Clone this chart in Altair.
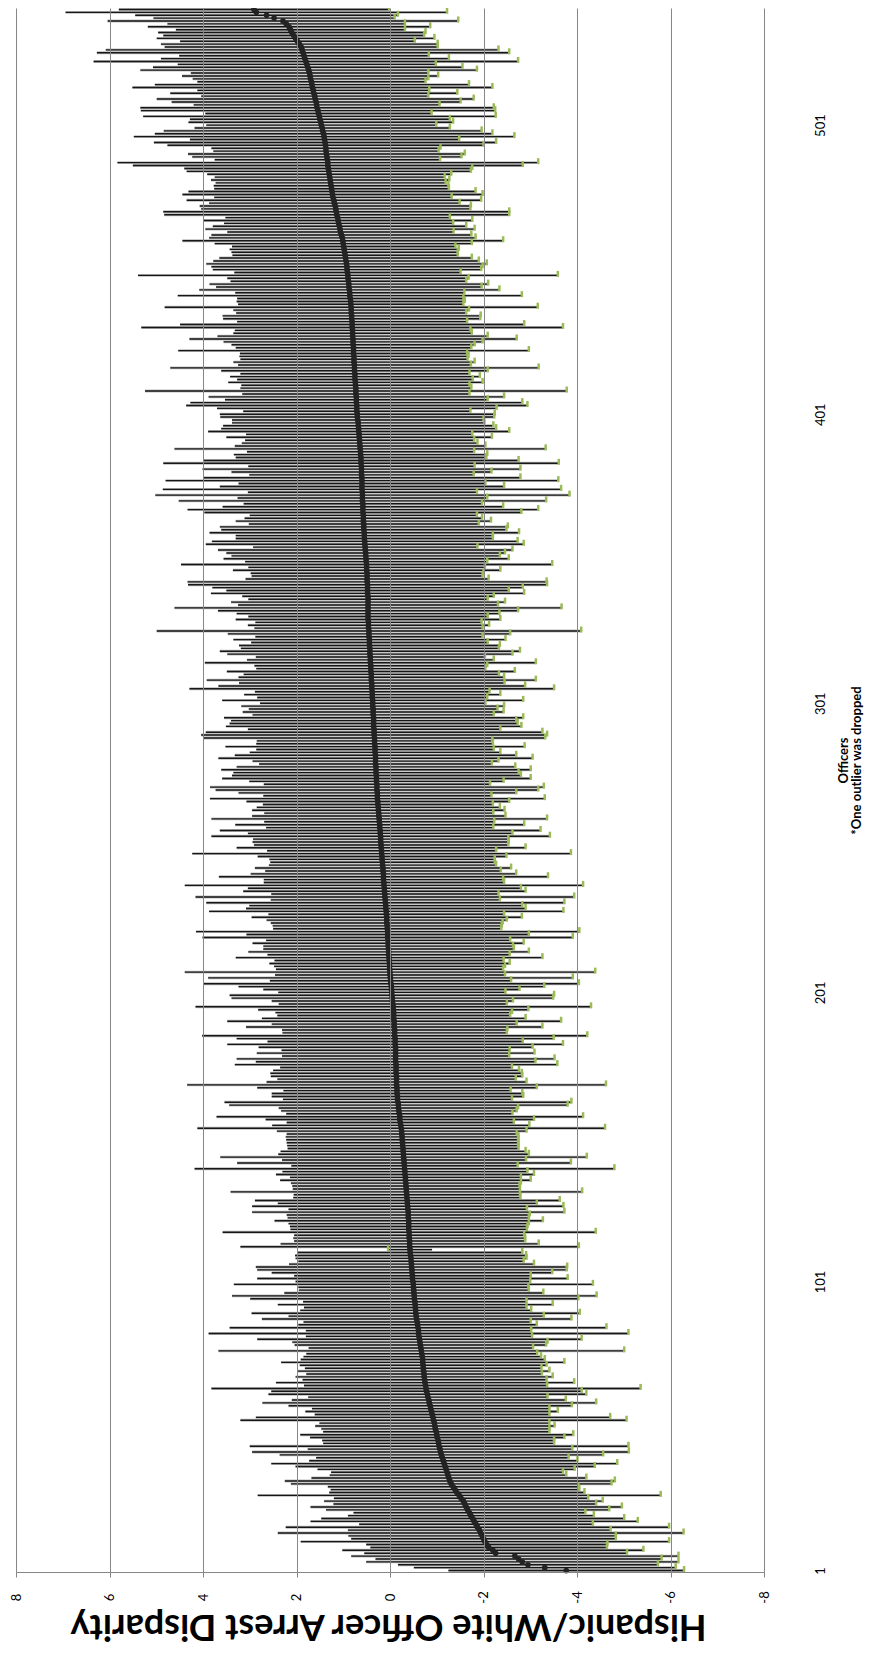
import altair as alt
import pandas as pd

# Point estimate of the Hispanic/White arrest disparity for each officer (officers sorted by estimate)
estimate = [
    -3.77, -3.31, -2.95, -2.83, -2.75, -2.67, -2.26, -2.20, -2.11, -2.07,
    -2.03, -2.00, -1.97, -1.94, -1.91, -1.87, -1.84, -1.80, -1.77, -1.73,
    -1.70, -1.66, -1.63, -1.60, -1.57, -1.52, -1.48, -1.43, -1.39, -1.35,
    -1.31, -1.28, -1.26, -1.24, -1.22, -1.20, -1.18, -1.16, -1.14, -1.12,
    -1.10, -1.08, -1.07, -1.05, -1.04, -1.03, -1.01, -1.00, -0.99, -0.97,
    -0.96, -0.95, -0.93, -0.92, -0.90, -0.89, -0.87, -0.86, -0.84, -0.83,
    -0.81, -0.80, -0.78, -0.77, -0.76, -0.75, -0.74, -0.73, -0.73, -0.72,
    -0.71, -0.71, -0.70, -0.70, -0.69, -0.68, -0.67, -0.66, -0.65, -0.64,
    -0.63, -0.62, -0.61, -0.61, -0.60, -0.59, -0.58, -0.57, -0.56, -0.55,
    -0.55, -0.54, -0.54, -0.53, -0.52, -0.52, -0.51, -0.51, -0.50, -0.50,
    -0.49, -0.48, -0.48, -0.47, -0.47, -0.46, -0.46, -0.45, -0.45, -0.44,
    -0.43, -0.43, -0.42, -0.42, -0.42, -0.41, -0.41, -0.41, -0.40, -0.40,
    -0.40, -0.40, -0.39, -0.39, -0.39, -0.38, -0.38, -0.37, -0.37, -0.36,
    -0.36, -0.35, -0.35, -0.34, -0.34, -0.33, -0.33, -0.32, -0.32, -0.31,
    -0.31, -0.30, -0.30, -0.29, -0.29, -0.28, -0.28, -0.27, -0.27, -0.26,
    -0.26, -0.25, -0.25, -0.24, -0.23, -0.22, -0.21, -0.21, -0.20, -0.19,
    -0.18, -0.18, -0.17, -0.16, -0.16, -0.15, -0.15, -0.15, -0.14, -0.14,
    -0.14, -0.14, -0.13, -0.13, -0.13, -0.13, -0.12, -0.12, -0.12, -0.12,
    -0.12, -0.12, -0.11, -0.11, -0.11, -0.10, -0.10, -0.10, -0.09, -0.09,
    -0.09, -0.08, -0.08, -0.08, -0.07, -0.07, -0.06, -0.05, -0.05, -0.04,
    -0.04, -0.03, -0.03, -0.02, -0.01, -0.01, 0.00, 0.00, 0.01, 0.01,
    0.01, 0.02, 0.02, 0.03, 0.03, 0.03, 0.04, 0.04, 0.04, 0.05,
    0.05, 0.05, 0.06, 0.06, 0.07, 0.07, 0.07, 0.08, 0.08, 0.09,
    0.09, 0.10, 0.10, 0.11, 0.11, 0.12, 0.12, 0.13, 0.13, 0.14,
    0.14, 0.14, 0.15, 0.15, 0.16, 0.16, 0.17, 0.17, 0.18, 0.18,
    0.19, 0.19, 0.20, 0.20, 0.20, 0.21, 0.21, 0.22, 0.22, 0.23,
    0.23, 0.24, 0.24, 0.25, 0.25, 0.26, 0.26, 0.27, 0.27, 0.27,
    0.28, 0.28, 0.28, 0.29, 0.29, 0.29, 0.30, 0.30, 0.30, 0.31,
    0.31, 0.31, 0.31, 0.32, 0.32, 0.32, 0.33, 0.33, 0.33, 0.34,
    0.34, 0.34, 0.35, 0.35, 0.35, 0.35, 0.36, 0.36, 0.36, 0.37,
    0.37, 0.37, 0.38, 0.38, 0.38, 0.39, 0.39, 0.39, 0.40, 0.40,
    0.40, 0.41, 0.41, 0.41, 0.42, 0.42, 0.42, 0.43, 0.43, 0.43,
    0.44, 0.44, 0.44, 0.45, 0.45, 0.45, 0.46, 0.46, 0.46, 0.47,
    0.47, 0.47, 0.47, 0.47, 0.47, 0.47, 0.47, 0.47, 0.48, 0.48,
    0.48, 0.48, 0.49, 0.49, 0.49, 0.49, 0.50, 0.50, 0.50, 0.51,
    0.51, 0.52, 0.52, 0.53, 0.53, 0.54, 0.54, 0.55, 0.55, 0.55,
    0.56, 0.56, 0.56, 0.57, 0.57, 0.57, 0.58, 0.58, 0.58, 0.58,
    0.59, 0.59, 0.59, 0.59, 0.60, 0.60, 0.60, 0.60, 0.60, 0.61,
    0.61, 0.61, 0.61, 0.62, 0.62, 0.62, 0.63, 0.63, 0.64, 0.64,
    0.65, 0.65, 0.66, 0.66, 0.67, 0.67, 0.68, 0.68, 0.69, 0.70,
    0.70, 0.71, 0.71, 0.71, 0.72, 0.72, 0.72, 0.73, 0.73, 0.73,
    0.74, 0.74, 0.75, 0.75, 0.75, 0.76, 0.76, 0.76, 0.77, 0.77,
    0.77, 0.78, 0.78, 0.78, 0.79, 0.79, 0.79, 0.80, 0.80, 0.80,
    0.81, 0.81, 0.81, 0.82, 0.82, 0.83, 0.83, 0.83, 0.84, 0.84,
    0.85, 0.86, 0.86, 0.87, 0.88, 0.88, 0.89, 0.90, 0.90, 0.91,
    0.92, 0.92, 0.93, 0.94, 0.95, 0.96, 0.97, 0.98, 0.99, 1.00,
    1.01, 1.02, 1.04, 1.06, 1.07, 1.08, 1.10, 1.11, 1.12, 1.14,
    1.15, 1.16, 1.17, 1.19, 1.20, 1.22, 1.23, 1.24, 1.25, 1.26,
    1.27, 1.28, 1.29, 1.30, 1.31, 1.32, 1.33, 1.33, 1.34, 1.35,
    1.36, 1.37, 1.37, 1.38, 1.39, 1.40, 1.41, 1.42, 1.44, 1.45,
    1.47, 1.48, 1.50, 1.51, 1.53, 1.54, 1.56, 1.57, 1.58, 1.60,
    1.61, 1.63, 1.64, 1.66, 1.67, 1.68, 1.70, 1.71, 1.72, 1.74,
    1.76, 1.78, 1.80, 1.82, 1.84, 1.86, 1.88, 1.90, 1.94, 1.98,
    2.02, 2.06, 2.10, 2.13, 2.16, 2.22, 2.29, 2.48, 2.64, 2.86, 2.91,
]

# Half-width of each officer's confidence interval
margin = [
    2.52, 2.80, 2.78, 3.34, 3.06, 3.50, 2.81, 3.22, 2.53, 2.58,
    3.94, 2.83, 2.86, 4.34, 2.81, 4.10, 2.50, 3.50, 3.24, 2.63,
    2.48, 3.03, 3.33, 2.81, 2.98, 2.72, 4.31, 2.73, 2.66, 2.68,
    3.43, 3.53, 2.94, 2.53, 2.48, 2.75, 3.20, 3.70, 2.87, 2.70,
    3.46, 4.03, 2.83, 4.05, 2.47, 2.48, 2.72, 2.92, 2.42, 2.44,
    2.56, 2.46, 4.13, 3.79, 2.51, 2.70, 2.54, 3.03, 3.57, 2.93,
    2.56, 3.40, 3.32, 4.59, 2.60, 3.19, 2.61, 2.75, 2.52, 2.69,
    2.53, 2.64, 3.03, 2.61, 2.54, 2.47, 4.34, 2.40, 2.69, 2.73,
    3.47, 2.42, 4.49, 2.41, 4.03, 2.55, 2.43, 3.31, 2.73, 3.51,
    2.47, 2.38, 2.94, 2.39, 3.51, 3.90, 2.77, 2.46, 2.46, 3.84,
    2.51, 3.32, 2.53, 3.00, 3.31, 3.33, 2.62, 2.41, 2.47, 2.47,
    2.40, -0.47, 3.62, 2.76, 2.47, 2.48, 2.46, 3.99, 2.53, 2.54,
    2.57, 2.87, 2.58, 2.60, 3.34, 2.55, 3.33, 2.77, 3.26, 2.43,
    2.42, 3.76, 2.43, 2.43, 2.46, 2.68, 2.47, 2.76, 2.62, 4.49,
    2.42, 3.57, 2.61, 3.92, 2.68, 2.62, 2.47, 2.47, 2.48, 2.48,
    2.49, 2.46, 2.67, 4.36, 2.75, 2.43, 2.87, 3.92, 2.42, 2.52,
    2.56, 3.62, 3.71, 2.45, 2.69, 2.68, 2.43, 2.99, 4.48, 2.78,
    2.55, 2.69, 2.69, 2.63, 2.48, 3.45, 2.99, 3.40, 2.43, 2.97,
    2.44, 2.93, 3.59, 2.73, 3.39, 4.12, 2.40, 2.41, 3.17, 2.62,
    3.57, 2.82, 2.49, 2.53, 2.89, 4.23, 2.44, 2.58, 3.44, 3.47,
    2.43, 2.74, 3.27, 4.02, 2.58, 3.90, 2.46, 4.39, 2.43, 2.47,
    2.57, 2.45, 3.28, 2.59, 3.00, 2.68, 2.67, 2.90, 2.61, 3.96,
    3.02, 4.10, 2.44, 2.45, 2.48, 2.57, 2.89, 2.52, 3.79, 2.99,
    2.92, 3.83, 2.45, 4.05, 2.43, 3.02, 2.92, 4.26, 2.57, 2.56,
    3.52, 2.84, 2.52, 2.74, 2.43, 2.40, 2.41, 2.66, 4.05, 2.45,
    3.09, 2.72, 2.74, 2.73, 3.62, 2.83, 3.43, 2.43, 3.09, 2.46,
    3.59, 2.71, 2.45, 2.70, 2.60, 2.46, 2.81, 3.58, 2.44, 2.97,
    3.45, 3.57, 2.42, 2.72, 3.30, 3.09, 3.05, 3.31, 2.98, 2.49,
    2.63, 3.36, 3.01, 2.68, 2.54, 3.20, 2.53, 2.52, 3.65, 3.70,
    3.60, 2.70, 3.16, 3.08, 3.05, 3.20, 2.58, 2.79, 2.66, 2.81,
    2.41, 3.22, 2.46, 2.74, 2.51, 3.90, 3.28, 2.84, 3.52, 2.84,
    2.73, 3.08, 2.45, 2.49, 3.54, 2.64, 2.45, 3.05, 3.21, 2.76,
    2.79, 2.53, 2.91, 2.43, 3.02, 4.54, 2.44, 2.58, 2.42, 2.83,
    2.56, 2.81, 3.21, 4.14, 2.78, 2.93, 2.56, 2.69, 3.35, 3.02,
    3.32, 3.84, 3.84, 2.60, 2.47, 2.49, 2.86, 2.53, 3.97, 2.59,
    3.05, 2.87, 2.98, 3.15, 2.40, 3.40, 3.27, 2.75, 2.75, 3.31,
    3.05, 3.08, 2.46, 2.73, 2.54, 2.43, 3.39, 3.75, 3.00, 2.55,
    3.93, 2.67, 4.43, 2.45, 4.26, 3.04, 2.64, 4.20, 3.39, 2.40,
    2.78, 3.40, 2.42, 4.23, 3.37, 2.68, 2.71, 2.43, 3.97, 2.68,
    2.52, 2.45, 2.84, 2.42, 3.22, 2.94, 2.89, 2.70, 2.69, 2.93,
    2.94, 2.43, 2.99, 3.65, 3.55, 2.81, 3.16, 2.43, 4.51, 2.47,
    2.44, 2.72, 2.52, 2.67, 2.45, 2.85, 3.94, 2.49, 2.58, 2.43,
    2.45, 2.43, 3.75, 2.52, 2.60, 2.77, 3.50, 2.89, 2.55, 2.52,
    4.51, 3.68, 2.46, 2.75, 2.76, 2.46, 2.52, 3.99, 2.41, 2.44,
    2.42, 3.68, 2.45, 3.21, 2.84, 2.98, 2.52, 2.58, 4.49, 2.42,
    2.87, 2.90, 3.00, 2.84, 2.70, 2.41, 2.42, 2.45, 2.39, 2.75,
    3.43, 2.85, 2.78, 2.42, 2.88, 2.71, 2.45, 2.87, 2.40, 3.69,
    3.70, 2.88, 2.90, 2.68, 3.15, 2.54, 3.21, 3.07, 2.51, 2.51,
    2.46, 2.55, 2.46, 2.61, 3.04, 3.08, 4.17, 4.50, 2.41, 2.88,
    2.96, 2.41, 2.45, 3.38, 3.66, 2.88, 4.07, 3.61, 3.40, 2.73,
    2.46, 2.83, 2.78, 3.77, 2.42, 3.79, 3.78, 2.63, 3.09, 3.39,
    2.43, 3.07, 2.48, 3.85, 3.36, 2.44, 2.52, 2.74, 2.54, 3.60,
    3.31, 2.76, 4.54, 3.08, 2.67, 4.41, 4.20, 2.92, 2.96, 2.51,
    2.97, 2.79, 2.86, 2.45, 3.02, 2.54, 3.75, 2.58, 2.81, 4.08, 2.89,
]

disparity_ticks = [-8, -6, -4, -2, 0, 2, 4, 6, 8]
officer_ticks = [1, 101, 201, 301, 401, 501]

n = min(len(estimate), len(margin))
df = pd.DataFrame({
    "officer": list(range(1, n + 1)),
    "estimate": estimate[:n],
    "margin": margin[:n],
})
df["upper"] = df["estimate"] + df["margin"]
df["lower"] = df["estimate"] - df["margin"]

FONT = "Lato"
GRID = "#868686"

xs = alt.Scale(domain=[-8, 8], reverse=True, nice=False, zero=False)
ys = alt.Scale(domain=[0.5, n + 0.5], nice=False, zero=False)

x_axis = alt.Axis(
    values=disparity_ticks, grid=True, gridColor=GRID, gridWidth=1, gridOpacity=1,
    domainColor=GRID, domainWidth=1, tickColor=GRID, tickSize=5, tickWidth=1,
    labelExpr="'' + datum.value", labelAngle=270, labelAlign="center",
    labelBaseline="middle", labelPadding=20, labelFont=FONT, labelFontSize=13,
    labelColor="black", title="Hispanic/White Officer Arrest Disparity",
    titleAngle=180, titleFont=FONT, titleFontSize=36, titleFontWeight="bold",
    titleColor="black", titleBaseline="middle", titleAlign="center",
    titleX=372, titleY=53, zindex=1,
)
y_axis = alt.Axis(
    orient="right", values=officer_ticks, grid=False, domain=False, ticks=False,
    labelAngle=270, labelAlign="center", labelBaseline="middle", labelPadding=56,
    labelFont=FONT, labelFontSize=13, labelColor="black",
    title=["Officers", "*One outlier was dropped"], titleAngle=270,
    titleBaseline="top", titleAlign="center", titleX=73, titleY=752,
    titleFont=FONT, titleFontSize=13, titleFontWeight="bold", titleColor="black",
    titleLineHeight=13,
)

base = alt.Chart(df)

shadow = base.mark_rule(color="#bdbdbd", strokeWidth=2.9).encode(
    x=alt.X("upper:Q", scale=xs, axis=x_axis),
    x2="lower:Q",
    y=alt.Y("officer:Q", scale=ys, axis=y_axis),
)
bars = base.mark_rule(color="#161616", strokeWidth=1.4).encode(
    x=alt.X("upper:Q", scale=xs),
    x2="lower:Q",
    y=alt.Y("officer:Q", scale=ys),
)
green = base.mark_tick(color="#9bbb59", orient="vertical", size=6, thickness=2.5, yOffset=-1.5, opacity=1).encode(
    x=alt.X("lower:Q", scale=xs),
    y=alt.Y("officer:Q", scale=ys),
)
dots = base.mark_circle(color="#232323", size=32, opacity=1).encode(
    x=alt.X("estimate:Q", scale=xs),
    y=alt.Y("officer:Q", scale=ys),
)

chart = alt.layer(shadow, bars, green, dots).properties(
    width=748,
    height=1564,
    padding={"left": 8, "top": 0, "right": 103, "bottom": 80},
    autosize=alt.AutoSizeParams(type="none"),
    background="white",
).configure_view(stroke=None)

chart.save("out.html", embed_options={"renderer": "svg", "actions": False})
